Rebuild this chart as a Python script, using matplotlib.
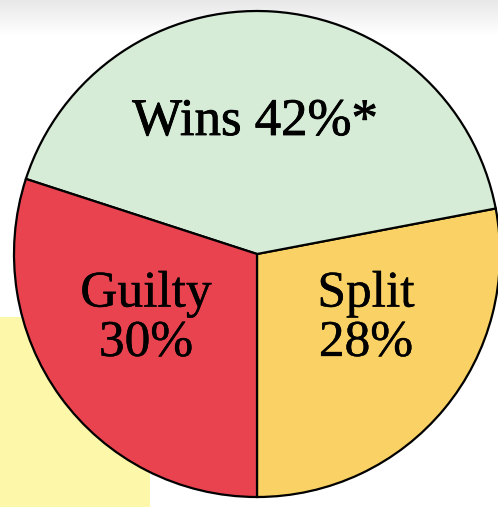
import matplotlib
matplotlib.use('Agg')
import matplotlib.pyplot as plt
import matplotlib.patches as patches
import matplotlib.patheffects as pe
import numpy as np

# Data
labels = ['Split\n28%', 'Wins 42%*', 'Guilty\n30%']
shares = [28, 42, 30]
colors = ['#f9d165', '#d6ecd7', '#e9434f']

W, H = 498, 507
fig = plt.figure(figsize=(W / 100, H / 100), dpi=100)
ax = fig.add_axes([0, 0, 1, 1])

# faint grey band at the top of the scan
grad = np.linspace(0, 1, 60).reshape(-1, 1)
ax.imshow(np.dstack([0.91 + 0.09 * grad] * 3), extent=(0, W, H - 35, H),
          aspect='auto', zorder=0)

# pale yellow box behind the lower left of the pie
ax.add_patch(patches.Rectangle((0, 0), 150, 190, facecolor='#fdf7a9',
                               edgecolor='none', zorder=1))

cx, cy, r = 257, 253, 243
wedges, _ = ax.pie(shares, colors=colors, startangle=-90, counterclock=True,
                   center=(cx, cy), radius=r, frame=True,
                   wedgeprops=dict(edgecolor='black', linewidth=1.6))
for w in wedges:
    w.set_zorder(2)
ax.set_xlim(0, W)
ax.set_ylim(0, H)
ax.set_aspect('equal')
ax.axis('off')

font = dict(family='Liberation Serif', color='black', ha='center',
            va='center', zorder=3)
ax.text(255, H - 122, labels[1], fontsize=38,
        path_effects=[pe.withStroke(linewidth=0.6, foreground='black')], **font)
ax.text(146, H - 319, labels[2], fontsize=37, linespacing=1.08,
        path_effects=[pe.withStroke(linewidth=0.3, foreground='black')], **font)
ax.text(366, H - 319, labels[0], fontsize=37, linespacing=1.08,
        path_effects=[pe.withStroke(linewidth=0.3, foreground='black')], **font)

fig.savefig('out.png', dpi=100)
